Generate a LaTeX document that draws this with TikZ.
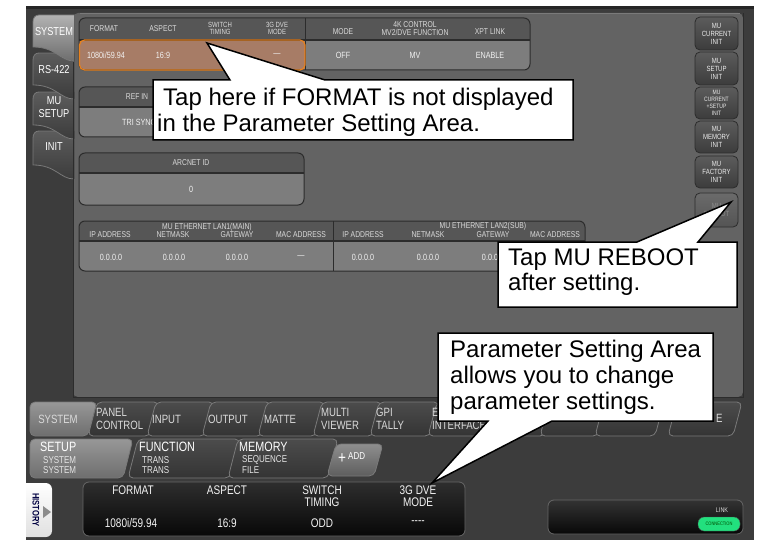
\documentclass[tikz,border=0pt]{standalone}
\usepackage{fontspec}
\setmainfont{Liberation Sans}
\newfontfamily\ui[FakeStretch=0.8]{Liberation Sans}
\usetikzlibrary{calc}
\definecolor{cframe}{HTML}{3C3C3C}
\definecolor{cpanel}{HTML}{636363}
\definecolor{chdr}{HTML}{565656}
\definecolor{ccell}{HTML}{7D7D7D}
\definecolor{cedge}{HTML}{2C2C2C}
\definecolor{corfill}{HTML}{A77C66}
\definecolor{corline}{HTML}{E8821E}
\definecolor{chdtxt}{HTML}{DADADA}
\definecolor{cvaltxt}{HTML}{F2F2F2}
\definecolor{ctabedge}{HTML}{7A7A7A}
\definecolor{cseltop}{HTML}{B2B2B2}
\definecolor{cselbot}{HTML}{6E6E6E}
\definecolor{cuntop}{HTML}{5C5C5C}
\definecolor{cunbot}{HTML}{3C3C3C}
\definecolor{cbtop}{HTML}{4C4C4C}
\definecolor{cbbot}{HTML}{343434}
\definecolor{cgreen}{HTML}{22E07E}
\newcommand\ltab[3]{%
 \fill[#3] (74,#1) -- (39,#1) .. controls (35,#1) and (33,#1+3) .. (33,#1+7) -- (33,#2) .. controls (56,#2) and (60,#2+14) .. (74,#2+14) -- cycle;
 \draw[ctabedge, line width=0.8pt] (74,#1) -- (39,#1) .. controls (35,#1) and (33,#1+3) .. (33,#1+7) -- (33,#2) .. controls (56,#2) and (60,#2+14) .. (74,#2+14);}
\newcommand\btab[6]{%
 \path[rounded corners=5pt, #6] (#1,#4) -- (#1+#5,#3) -- (#2+#5,#3) -- (#2,#4) -- cycle;}
\begin{document}
\begin{tikzpicture}[x=1pt,y=-1pt, every node/.style={inner sep=0pt},
 hd/.style={font=\ui\fontsize{8.5}{8}\selectfont, text=chdtxt, align=center},
 hds/.style={font=\ui\fontsize{7.5}{7}\selectfont, text=chdtxt, align=center},
 val/.style={font=\ui\fontsize{9}{9}\selectfont, text=cvaltxt},
 ltabtxt/.style={font=\ui\fontsize{11.5}{13}\selectfont, text=white, align=center},
 btn/.style={draw=cedge, line width=0.8pt, rounded corners=5pt, top color=cuntop, bottom color=cunbot, minimum width=43pt, font=\ui\fontsize{7.5}{8}\selectfont, text=white!92!black, align=center},
 rowone/.style={font=\ui\fontsize{12}{12.5}\selectfont, text=chdtxt, align=left, anchor=west},
 rowtwo/.style={font=\ui\fontsize{13.5}{13}\selectfont, text=white, anchor=west},
 rowsub/.style={font=\ui\fontsize{10}{10}\selectfont, text=white!90!black, anchor=west},
 bottxt/.style={font=\ui\fontsize{12.5}{12}\selectfont, text=cvaltxt, align=center},
 unsel/.style={top color=cbtop, bottom color=cbbot, draw=ctabedge, line width=0.8pt},
 selected/.style={top color=cseltop!85!black, bottom color=cselbot, draw=ctabedge, line width=0.8pt},
 cline/.style={font=\fontsize{24}{26}\selectfont, anchor=base west, text=black},
 callout/.style={fill=white, draw=black, line width=1.5pt}]
\useasboundingbox (0,0) rectangle (757,540);
\fill[white] (0,0) rectangle (757,540);
% frame
\fill[cframe] (26,6) rectangle (754,540);
\fill[black!85] (26,6) rectangle (754,9);
% main panel
\fill[cpanel, rounded corners=5pt] (73,13) rectangle (743,397);
% left tabs
\ltab{131}{165}{top color=cuntop, bottom color=cunbot}
\ltab{92}{125}{top color=cuntop, bottom color=cunbot}
\ltab{53}{85}{top color=cuntop, bottom color=cunbot}
\ltab{15}{47}{top color=cseltop, bottom color=cselbot}
\draw[cedge, line width=1pt] (73,62) -- (73,397) -- (743,397) -- (743,13);
\draw[ctabedge] (80,13.5) -- (740,13.5);
\node (tsys) [ltabtxt] at (54,32) {SYSTEM};
\node (trs) [ltabtxt] at (54,70) {RS-422};
\node (tmu) [ltabtxt] at (54,107) {MU\\SETUP};
\node (tinit) [ltabtxt] at (54,147) {INIT};
% format table
\begin{scope}
\clip[rounded corners=6pt] (79,18) rectangle (530,70);
\fill[chdr] (79,18) rectangle (530,40);
\fill[ccell] (305,40) rectangle (530,70);
\fill[corfill] (79,40) rectangle (305,70);
\end{scope}
\draw[cedge, line width=1pt, rounded corners=6pt] (79,18) rectangle (530,70);
\draw[cedge, line width=1.2pt] (79,40) -- (530,40);
\draw[cedge, line width=1pt] (305,18) -- (305,70);
\draw[corline, line width=1.2pt, rounded corners=5pt] (79.5,40) rectangle (305,70);
\node (hfmt) [hd] at (104,29) {FORMAT};
\node (hasp) [hd] at (163,29) {ASPECT};
\node (hsw) [hds] at (220,28) {SWITCH\\TIMING};
\node (h3g) [hds] at (277,28) {3G DVE\\MODE};
\node (hmode) [hd] at (343,32) {MODE};
\node (h4k) [hd] at (415,29) {4K CONTROL\\MV2/DVE FUNCTION};
\node (hxpt) [hd] at (490,32) {XPT LINK};
\node (vfmt) [val] at (106,55) {1080i/59.94};
\node (vasp) [val] at (163,55) {16:9};
\node (v3g) [val] at (277,55) {\textemdash};
\node (vmode) [val] at (343,55) {OFF};
\node (v4k) [val] at (415,55) {MV};
\node (vxpt) [val] at (490,55) {ENABLE};
% REF IN
\begin{scope}
\clip[rounded corners=6pt] (79,87) rectangle (220,137);
\fill[chdr] (79,87) rectangle (220,107);
\fill[ccell] (79,107) rectangle (220,137);
\end{scope}
\draw[cedge, line width=1pt, rounded corners=6pt] (79,87) rectangle (220,137);
\draw[cedge, line width=1.2pt] (79,107) -- (220,107);
\node (href) [hd] at (137,97) {REF IN};
\node (vref) [val] at (139,122) {TRI SYNC};
% ARCNET
\begin{scope}
\clip[rounded corners=6pt] (79,153) rectangle (304,205);
\fill[chdr] (79,153) rectangle (304,173);
\fill[ccell] (79,173) rectangle (304,205);
\end{scope}
\draw[cedge, line width=1pt, rounded corners=6pt] (79,153) rectangle (304,205);
\draw[cedge, line width=1.2pt] (79,173) -- (304,173);
\node (harc) [hd] at (191,163) {ARCNET ID};
\node (varc) [val] at (191,189) {0};
% Ethernet
\begin{scope}
\clip[rounded corners=6pt] (79,221) rectangle (585,271);
\fill[chdr] (79,221) rectangle (585,241);
\fill[ccell] (79,241) rectangle (585,271);
\end{scope}
\draw[cedge, line width=1pt, rounded corners=6pt] (79,221) rectangle (585,271);
\draw[cedge, line width=1.6pt] (79,241) -- (585,241);
\draw[cedge, line width=1pt] (333,221) -- (333,271);
\node (lan1) [hd] at (207,227) {MU ETHERNET LAN1(MAIN)};
\node (l1ip) [hd] at (110,235) {IP ADDRESS};
\node (l1nm) [hd] at (173,235) {NETMASK};
\node (l1gw) [hd] at (237,235) {GATEWAY};
\node (l1mac) [hd] at (301,235) {MAC ADDRESS};
\node (l1ipv) [val] at (111,257) {0.0.0.0};
\node (l1nmv) [val] at (174,257) {0.0.0.0};
\node (l1gwv) [val] at (237,257) {0.0.0.0};
\node (l1macv) [val] at (301,257) {\textemdash};
\node (lan2) [hd] at (483,226) {MU ETHERNET LAN2(SUB)};
\node (l2ip) [hd] at (363,235) {IP ADDRESS};
\node (l2nm) [hd] at (428,235) {NETMASK};
\node (l2gw) [hd] at (493,235) {GATEWAY};
\node (l2mac) [hd] at (555,235) {MAC ADDRESS};
\node (l2ipv) [val] at (363,257) {0.0.0.0};
\node (l2nmv) [val] at (428,257) {0.0.0.0};
\node (l2gwv) [val] at (493,257) {0.0.0.0};
% right buttons
\node (b1) [btn, minimum height=33pt] at (716.5,33.5) {MU\\CURRENT\\INIT};
\node (b2) [btn, minimum height=33pt] at (716.5,68.5) {MU\\SETUP\\INIT};
\node (b3) [btn, minimum height=32pt, font=\ui\fontsize{6.3}{6.8}\selectfont] at (716.5,103) {MU\\CURRENT\\+SETUP\\INIT};
\node (b4) [btn, minimum height=32pt] at (716.5,137) {MU\\MEMORY\\INIT};
\node (b5) [btn, minimum height=32pt] at (716.5,172) {MU\\FACTORY\\INIT};
\node (b6) [btn, minimum height=34pt, top color=cpanel!95!white, bottom color=cpanel!85!black, text=white!55!black] at (716.5,210) {MU\\REBOOT};
% bottom row 1 tabs
\path[rounded corners=5pt, selected] (30,436) -- (30,402) -- (97,402) -- (88,436) -- cycle;
\btab{88}{150}{402}{436}{9}{unsel}
\btab{147}{205}{402}{436}{9}{unsel}
\btab{202}{262}{402}{436}{9}{unsel}
\btab{258}{316}{402}{436}{9}{unsel}
\btab{313}{373}{402}{436}{9}{unsel}
\btab{370}{430}{402}{436}{9}{unsel}
\btab{428}{545}{402}{436}{9}{unsel}
\btab{540}{598}{402}{436}{9}{unsel}
\btab{595}{655}{402}{436}{9}{unsel}
\btab{668}{733}{402}{436}{9}{unsel}
\node (r1sys) [rowone, anchor=center] at (58,419) {SYSTEM};
\node (r1pc) [rowone] at (96,419) {PANEL\\CONTROL};
\node (r1in) [rowone] at (152,419) {INPUT};
\node (r1out) [rowone] at (208,419) {OUTPUT};
\node (r1mat) [rowone] at (264,419) {MATTE};
\node (r1mv) [rowone] at (321,419) {MULTI\\VIEWER};
\node (r1gpi) [rowone] at (376,419) {GPI\\TALLY};
\node (r1ext) [rowone] at (432,419) {EXT\\INTERFACE};
\node (r1last) [rowone] at (716,418) {E};
% bottom row 2 tabs
\path[rounded corners=5pt, selected] (30,478) -- (30,439) -- (133,439) -- (123,478) -- cycle;
\btab{128}{230}{439}{478}{10}{unsel}
\btab{228}{328}{439}{478}{10}{unsel}
\btab{327}{374}{444}{476}{9}{top color=cseltop!80!black, bottom color=cselbot!85!black, draw=ctabedge, line width=0.8pt}
\node (r2setup) [rowtwo] at (40,447) {SETUP};
\node (r2s1) [rowsub] at (43,460) {SYSTEM};
\node (r2s2) [rowsub] at (43,470) {SYSTEM};
\node (r2fn) [rowtwo] at (139,447) {FUNCTION};
\node (r2t1) [rowsub] at (142,460) {TRANS};
\node (r2t2) [rowsub] at (142,470) {TRANS};
\node (r2mem) [rowtwo] at (239,447) {MEMORY};
\node (r2q1) [rowsub] at (242,460) {SEQUENCE};
\node (r2q2) [rowsub] at (242,470) {FILE};
\node (r2plus) [font=\ui\fontsize{17}{17}\selectfont, text=white] at (342,459) {+};
\node (r2add) [rowsub, text=white] at (348,456) {ADD};
% history tab
\begin{scope}
\clip (26,480) rectangle (60,540);
\fill[top color=white, bottom color=black!12, rounded corners=6pt] (18,483) rectangle (52,537);
\end{scope}
\node (hist) [rotate=-90, font=\ui\bfseries\fontsize{9.5}{9.5}\selectfont, text=blue!25!black] at (36,510) {HISTORY};
\fill[black!45] (43,506) -- (51,512) -- (43,518) -- cycle;
% info box
\node (info) [draw=black!60, line width=0.8pt, rounded corners=6pt, top color=black!82, bottom color=black!97, minimum width=382pt, minimum height=54pt] at (274,509) {};
\node (ifmt) [bottxt] at (133,490) {FORMAT};
\node (iasp) [bottxt] at (227,490) {ASPECT};
\node (isw) [bottxt] at (322,496) {SWITCH\\TIMING};
\node (i3g) [bottxt] at (418,496) {3G DVE\\MODE};
\node (ifmtv) [bottxt] at (131,523) {1080i/59.94};
\node (iaspv) [bottxt] at (227,523) {16:9};
\node (iswv) [bottxt] at (322,523) {ODD};
\node (i3gv) [bottxt] at (418,523) {----};
% link box
\node (link) [draw=black!60, line width=0.8pt, rounded corners=6pt, top color=black!80, bottom color=black!97, minimum width=195pt, minimum height=34pt] at (645.5,517) {};
\node (linktxt) [font=\ui\fontsize{6.8}{7}\selectfont, text=chdtxt] at (722,510) {LINK};
\node (conn) [draw=black!70, fill=cgreen, rounded corners=6pt, minimum width=42pt, minimum height=14pt, font=\ui\fontsize{5}{5}\selectfont, text=black!70!green] at (719,524) {CONNECTION};
% callouts
\draw[callout] (153,80) -- (230,80) -- (207,43) -- (325,80) -- (573,80) -- (573,140) -- (153,140) -- cycle;
\node (c1a) [cline] at (163,106) {Tap here if FORMAT is not displayed};
\node (c1b) [cline] at (157,132) {in the Parameter Setting Area.};
\draw[callout] (498,242) -- (637,242) -- (731,202) -- (698,242) -- (737,242) -- (737,307) -- (498,307) -- cycle;
\node (c2a) [cline] at (508,265) {Tap MU REBOOT};
\node (c2b) [cline] at (508,290) {after setting.};
\draw[callout] (438,333) -- (713,333) -- (713,421) -- (552,421) -- (432,483) -- (488,421) -- (438,421) -- cycle;
\node (c3a) [cline] at (450,357) {Parameter Setting Area};
\node (c3b) [cline] at (450,383) {allows you to change};
\node (c3c) [cline] at (450,409) {parameter settings.};
\end{tikzpicture}
\end{document}
